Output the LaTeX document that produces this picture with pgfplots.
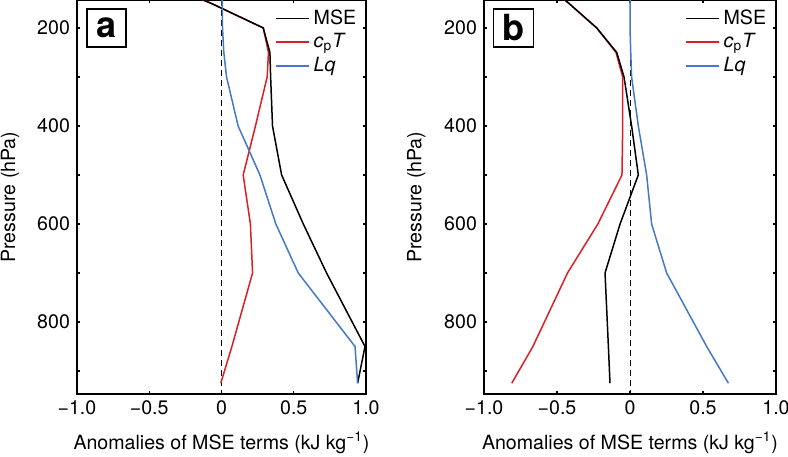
\documentclass[border=0pt]{standalone}
\usepackage{fontspec}
\setmainfont{TeX Gyre Heros}
\usepackage{pgfplots}
\pgfplotsset{compat=1.18}
\definecolor{myred}{RGB}{218,32,38}
\definecolor{myblue}{RGB}{70,120,200}
\newcommand{\fs}{\fontsize{9.8}{11}\selectfont}
\newcommand{\cpT}{\textit{c}\textsubscript{p}\textit{T}}
\pgfplotsset{
 legend image code/.code={\draw[#1] (0pt,0pt) -- (16.5pt,0pt);},
 mystyle/.style={
  width=144.5pt,height=197pt,scale only axis,
  xmin=-1,xmax=1,ymin=143,ymax=947,y dir=reverse,
  xtick={-1,-0.5,0,0.5,1},
  xticklabels={−1.0,−0.5,0,0.5,1.0},
  ytick={200,400,600,800}, minor ytick={300,500,700,900},
  yticklabels={200,400,600,800},
  tick align=inside, major tick length=1.5pt, minor tick length=1.5pt,
  tick style={black, line width=0.6pt},
  axis line style={line width=0.75pt},
  tick label style={font=\fs},
  label style={font=\fs},
  xlabel={Anomalies of MSE terms (kJ kg\textsuperscript{−1})},
  ylabel={Pressure (hPa)},
  xlabel style={at={(axis description cs:0.5,-0.124)},anchor=center},
  ylabel style={at={(axis description cs:-0.232,0.5)},anchor=center},
  legend style={draw=none,fill=none,font=\fs,at={(axis description cs:0.995,0.997)},anchor=north east,row sep=-0.8pt,inner sep=2pt},
  legend cell align=left,
  every axis plot/.append style={line width=0.75pt},
 }
}
\begin{document}
\begin{tikzpicture}
\begin{axis}[mystyle, at={(38.5pt,31pt)}, anchor=south west]
\addplot[black, densely dashed, line width=0.5pt, forget plot] coordinates {(0,143) (0,947)};
\addplot[myred, forget plot] coordinates {(-0.476,100) (-0.07,150) (0.289,200) (0.325,250) (0.316,300) (0.235,400) (0.15,500) (0.2,600) (0.215,700) (0.072,850) (-0.005,925)};
\addplot[black, forget plot] coordinates {(-0.476,100) (-0.07,150) (0.289,200) (0.335,250) (0.34,300) (0.353,400) (0.416,500) (0.566,600) (0.727,700) (0.993,850) (0.942,925)};
\addplot[myblue, forget plot] coordinates {(0.005,100) (0.005,150) (0.007,200) (0.016,250) (0.035,300) (0.115,400) (0.266,500) (0.376,600) (0.531,700) (0.924,850) (0.942,925)};
\addlegendimage{black, line width=0.8pt}\addlegendentry{MSE}
\addlegendimage{color=myred, line width=0.8pt}\addlegendentry{\cpT}
\addlegendimage{color=myblue, line width=0.8pt}\addlegendentry{\textit{Lq}}
\node[draw,line width=0.75pt,minimum width=19.5pt,minimum height=19pt,inner sep=0pt,font=\bfseries\fontsize{18}{18}\selectfont] at (axis description cs:0.102,0.929) {a};
\end{axis}
\begin{axis}[mystyle, at={(242pt,31pt)}, anchor=south west, width=146pt]
\addplot[black, densely dashed, line width=0.5pt, forget plot] coordinates {(0,143) (0,947)};
\addplot[myred, forget plot] coordinates {(-0.616,100) (-0.418,150) (-0.228,200) (-0.096,250) (-0.05,300) (-0.05,400) (-0.055,500) (-0.22,600) (-0.428,700) (-0.665,850) (-0.81,925)};
\addplot[black, forget plot] coordinates {(-0.616,100) (-0.418,150) (-0.228,200) (-0.091,250) (-0.041,300) (0.011,400) (0.057,500) (-0.068,600) (-0.171,700) (-0.148,850) (-0.137,925)};
\addplot[myblue, forget plot] coordinates {(0,100) (0,150) (0,200) (0.005,250) (0.011,300) (0.057,400) (0.114,500) (0.148,600) (0.251,700) (0.525,850) (0.674,925)};
\addlegendimage{black, line width=0.8pt}\addlegendentry{MSE}
\addlegendimage{color=myred, line width=0.8pt}\addlegendentry{\cpT}
\addlegendimage{color=myblue, line width=0.8pt}\addlegendentry{\textit{Lq}}
\node[draw,line width=0.75pt,minimum width=20pt,minimum height=19pt,inner sep=0pt,font=\bfseries\fontsize{18}{18}\selectfont] at (axis description cs:0.101,0.929) {b};
\end{axis}
\pgfresetboundingbox
\useasboundingbox (0,0) rectangle (394pt,228pt);
\end{tikzpicture}
\end{document}
